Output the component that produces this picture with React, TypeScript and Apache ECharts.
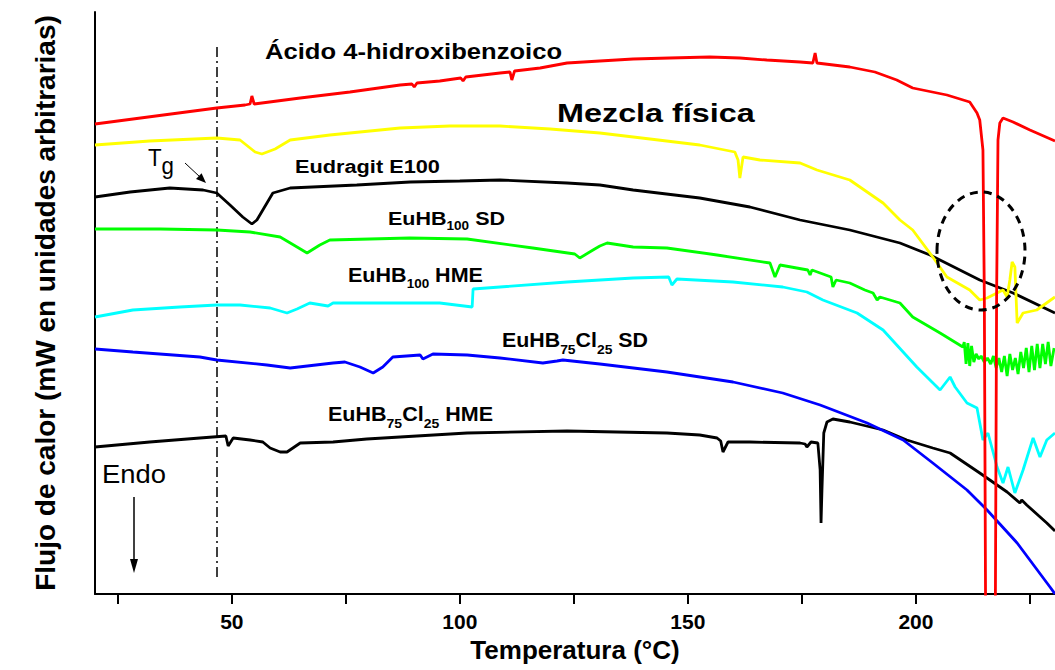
import React, { useEffect, useRef } from 'react';
import * as echarts from 'echarts';

const FONT = '"Liberation Sans", Arial, sans-serif';

// ---- Data: [temperature °C, heat flow (arbitrary units)] ----
const acido: number[][] = [[20,470],[30,476],[40,482],[46.7,486],[52.9,489],[54,490],[54.4,498],[54.9,490],[65,496],[75.9,502],[86.9,509],[89.5,510],[90,507],[90.6,511],[95.6,513],[100.2,516],[100.7,513],[101.3,517],[108.8,521],[111,522],[111.4,514],[112,523],[117.6,526],[123.5,531],[130.7,533],[138,535],[146,536],[154.8,537],[161.4,536],[167.3,534],[174.6,532],[177.4,531],[177.9,541],[178.3,531],[185.5,527],[191,522],[195.8,514],[199.3,506],[206.8,499],[211.8,492],[213.4,481],[214,474],[214.7,444],[215,300],[215.4,-150],[217.3,-150],[217.7,300],[218,454],[218.4,471],[219.1,476],[221.3,472],[225,464],[230.5,453]];

const mezcla: number[][] = [[20,449],[32,453],[46.7,456],[51.8,454],[55.1,442],[56.6,440],[59.5,445],[62.8,454],[71.5,459],[86.9,466],[97.8,468],[108.8,468],[119.8,465],[130.7,461],[141.7,455],[152.6,449],[160.3,442],[161,434],[161.4,416],[162.1,437],[165.8,434],[174.6,431],[178.3,424],[185.5,414],[192.8,391],[196.5,374],[199.3,364],[203.7,337],[206.8,317],[211.8,304],[214,294],[215.6,296],[219.1,304],[220,297],[220.6,314],[221.1,332],[221.7,327],[222.2,271],[223.5,281],[226.5,284],[230.5,297]];

const eudragit: number[][] = [[20,397],[27.7,402],[36.4,406],[43.7,404],[46.7,401],[49.6,389],[52.4,377],[54.4,370],[55.5,374],[56.8,384],[59,401],[62.8,406],[77.4,409],[89.1,412],[100,413],[108.8,414],[123.5,411],[130.7,409],[138,404],[152.6,396],[163.6,387],[174.6,374],[185.5,364],[196.5,351],[203.1,339],[214,314],[221.3,301],[230.5,281]];

const euhb100sd: number[][] = [[20,365],[34.3,365],[46.7,364],[54,362],[60.6,357],[64.3,347],[66.5,341],[69.3,349],[71.5,354],[89,356],[101.6,355],[116,346],[125.2,340],[126.3,336],[129.2,344],[130.7,348],[132.3,351],[138,347],[145.4,346],[156.4,339],[168,331],[169.1,317],[170.2,329],[176.3,324],[176.8,319],[177.2,324],[181.4,317],[181.8,307],[182.5,314],[185.5,311],[188.8,304],[190.6,301],[191.5,294],[192.1,297],[196.5,291],[199.3,277],[205.3,261],[210.3,247],[210.6,252],[211,230],[211.4,251],[211.8,228],[212.2,248],[212.7,232],[213.2,240],[213.8,235],[214.3,238],[215,232],[215.7,236],[216.4,230],[217,238],[217.6,226],[218.2,236],[218.8,222],[219.4,238],[220,218],[220.6,240],[221.2,224],[221.8,236],[222.4,220],[223,242],[223.6,226],[224.2,246],[224.8,222],[225.4,248],[226,224],[226.6,250],[227.2,226],[227.8,250],[228.4,230],[229,252],[229.6,228],[230.3,246]];

const euhb100hme: number[][] = [[20,277],[28.3,284],[38.6,287],[46.7,289],[51.8,289],[58.4,286],[62.1,281],[64.3,285],[67.1,291],[71.1,288],[72.2,291],[86.9,291],[95.6,291],[102.7,287],[102.9,305],[108.8,307],[123.5,312],[138,316],[145.8,317],[146.5,309],[147.6,315],[159.9,312],[170.8,307],[176.1,302],[179.6,294],[187.1,281],[192.8,264],[200.2,227],[205.3,204],[207.5,217],[208.6,207],[211.2,191],[213.4,186],[214.7,154],[215.8,161],[217.8,127],[219.1,111],[220.2,127],[221.7,101],[223.5,124],[225.7,156],[227.2,137],[228.7,154],[230.5,161]];

const euhb75sd: number[][] = [[20,245],[28.3,242],[43,237],[46.7,234],[57.7,229],[62.8,226],[72.2,231],[74.8,232],[78.1,227],[81,221],[83.1,227],[85.3,237],[91.3,239],[91.9,235],[94.1,240],[101.6,239],[108.8,236],[118.2,231],[121.3,233],[122.6,234],[130.7,230],[145.4,222],[159.9,212],[170.8,201],[179,189],[189.3,171],[197.2,154],[203.7,131],[211.2,104],[215.6,84],[222.2,51],[229.4,7],[230.5,0]];

const euhb75hme: number[][] = [[20,147],[32,152],[43,156],[48.7,158],[49.2,148],[50.3,156],[54,154],[56.8,152],[58.4,146],[60.6,142],[62.1,142],[65,151],[72.2,152],[79.6,155],[86.9,157],[101.6,161],[123.5,163],[145.4,161],[152.6,159],[156.4,156],[157.2,153],[157.7,142],[158.8,152],[163.6,152],[174.6,151],[175.7,150],[176.1,147],[177,152],[178.5,151],[179,124],[179.2,71],[179.4,104],[179.8,161],[180.5,172],[181.8,175],[185.5,172],[192.8,164],[198,154],[203.7,146],[207.5,141],[214,121],[220,102],[222.8,91],[223.2,94],[224.3,89],[228.7,71],[230.5,63]];

const xTickValues = [25, 50, 75, 100, 125, 150, 175, 200, 225];
const xLabelValues = [50, 100, 150, 200];
const TG = 46.7;

type Seg = { t: string; sub?: boolean };

function makeLabel(
  ctx: CanvasRenderingContext2D,
  segs: Seg[],
  x: number,
  baseline: number,
  fs: number,
  subFs: number,
  subShift: number,
  targetW: number,
  weight: string
) {
  const mainFont = `${weight} ${fs}px ${FONT}`;
  const subFont = `${weight} ${subFs}px ${FONT}`;
  let cx = 0;
  const children: any[] = [];
  segs.forEach((s) => {
    const font = s.sub ? subFont : mainFont;
    const size = s.sub ? subFs : fs;
    const b = s.sub ? baseline + subShift : baseline;
    children.push({
      type: 'text',
      x: cx,
      y: b - 0.3465 * size,
      silent: true,
      style: { text: s.t, font, fill: '#000', align: 'left', verticalAlign: 'middle' },
    });
    ctx.font = font;
    cx += ctx.measureText(s.t).width;
  });
  return { type: 'group', x, y: 0, scaleX: targetW / cx, children };
}

export default function App() {
  const ref = useRef<HTMLDivElement>(null);

  useEffect(() => {
    if (!ref.current) return;
    const chart = echarts.init(ref.current, undefined, { renderer: 'svg' });
    const ctx = document.createElement('canvas').getContext('2d') as CanvasRenderingContext2D;

    const line = (name: string, data: number[][], color: string, z: number, extra: any = {}) => ({
      type: 'line',
      name,
      data,
      symbol: 'none',
      showSymbol: false,
      clip: true,
      silent: true,
      z,
      lineStyle: { color, width: 2.8 },
      itemStyle: { color },
      emphasis: { disabled: true },
      ...extra,
    });

    const labels = [
      makeLabel(ctx, [{ t: 'Ácido 4-hidroxibenzoico' }], 265, 59, 22, 22, 0, 297, 'bold'),
      makeLabel(ctx, [{ t: 'Mezcla física' }], 557, 122, 25, 25, 0, 198, 'bold'),
      makeLabel(ctx, [{ t: 'Eudragit E100' }], 295, 173, 19, 19, 0, 145, 'bold'),
      makeLabel(ctx, [{ t: 'EuHB' }, { t: '100', sub: true }, { t: ' SD' }], 388, 225, 19, 12, 5, 117, 'bold'),
      makeLabel(ctx, [{ t: 'EuHB' }, { t: '100', sub: true }, { t: ' HME' }], 348, 282, 20, 12.5, 6, 135, 'bold'),
      makeLabel(ctx, [{ t: 'EuHB' }, { t: '75', sub: true }, { t: 'Cl' }, { t: '25', sub: true }, { t: ' SD' }], 502, 347, 20, 13, 7, 146, 'bold'),
      makeLabel(ctx, [{ t: 'EuHB' }, { t: '75', sub: true }, { t: 'Cl' }, { t: '25', sub: true }, { t: ' HME' }], 328, 421, 20, 13, 7, 165, 'bold'),
      makeLabel(ctx, [{ t: 'T' }, { t: 'g', sub: true }], 148, 166, 23, 23, 8, 26, 'normal'),
      makeLabel(ctx, [{ t: 'Endo' }], 102, 483, 25, 25, 0, 64, 'normal'),
    ];

    const option: any = {
      animation: false,
      backgroundColor: '#ffffff',
      grid: { left: 95, right: 0, top: 12, bottom: 76, containLabel: false, outerBoundsMode: 'none' },
      xAxis: {
        type: 'value',
        min: 20,
        max: 230.5,
        name: 'Temperatura (°C)',
        nameLocation: 'middle',
        nameGap: 42,
        nameTextStyle: { fontFamily: FONT, fontWeight: 'bold', fontSize: 26, color: '#000' },
        axisLine: { show: true, onZero: false, lineStyle: { color: '#000', width: 2 } },
        axisTick: { show: true, inside: false, length: 10, lineStyle: { color: '#000', width: 2 }, customValues: xTickValues },
        axisLabel: { show: true, customValues: xLabelValues, color: '#000', fontFamily: FONT, fontWeight: 'bold', fontSize: 21, margin: 17 },
        splitLine: { show: false },
      },
      yAxis: {
        type: 'value',
        min: 0,
        max: 582,
        name: 'Flujo de calor (mW en unidades arbitrarias)',
        nameLocation: 'middle',
        nameGap: 36,
        nameTextStyle: { fontFamily: FONT, fontWeight: 'bold', fontSize: 28, color: '#000' },
        axisLine: { show: true, onZero: false, lineStyle: { color: '#000', width: 2 } },
        axisTick: { show: false },
        axisLabel: { show: false },
        splitLine: { show: false },
      },
      series: [
        line('EuHB75Cl25 HME', euhb75hme, '#000000', 2),
        line('EuHB75Cl25 SD', euhb75sd, '#0000ff', 3),
        line('EuHB100 HME', euhb100hme, '#00ffff', 4),
        line('EuHB100 SD', euhb100sd, '#00ff00', 5),
        line('Eudragit E100', eudragit, '#000000', 6, {
          markLine: {
            silent: true,
            symbol: ['none', 'none'],
            label: { show: false },
            lineStyle: { color: '#000', width: 1.5, type: [10, 4, 2, 4] },
            emphasis: { disabled: true },
            data: [[{ coord: [TG, 547] }, { coord: [TG, 14] }]],
          },
        }),
        line('Mezcla física', mezcla, '#ffff00', 7),
        line('Ácido 4-hidroxibenzoico', acido, '#ff0000', 8),
      ],
      graphic: {
        elements: [
          ...labels,
          {
            type: 'ellipse',
            silent: true,
            z: 100,
            shape: { cx: 981, cy: 251, rx: 44, ry: 59 },
            style: { fill: 'none', stroke: '#000', lineWidth: 3, lineDash: [8, 6] },
          },
          {
            type: 'line',
            silent: true,
            shape: { x1: 185, y1: 163, x2: 200, y2: 177 },
            style: { stroke: '#000', lineWidth: 1 },
          },
          {
            type: 'polygon',
            silent: true,
            shape: { points: [[206, 183], [196, 179], [201.6, 173.2]] },
            style: { fill: '#000' },
          },
          {
            type: 'line',
            silent: true,
            shape: { x1: 134, y1: 497, x2: 134, y2: 562 },
            style: { stroke: '#000', lineWidth: 1.5 },
          },
          {
            type: 'polygon',
            silent: true,
            shape: { points: [[130, 559], [138, 559], [134, 573]] },
            style: { fill: '#000' },
          },
        ],
      },
    };

    chart.setOption(option);
    return () => {
      chart.dispose();
    };
  }, []);

  return (
    <div
      ref={ref}
      style={{ position: 'fixed', left: 0, top: 0, width: 1055, height: 670, background: '#fff' }}
    />
  );
}
